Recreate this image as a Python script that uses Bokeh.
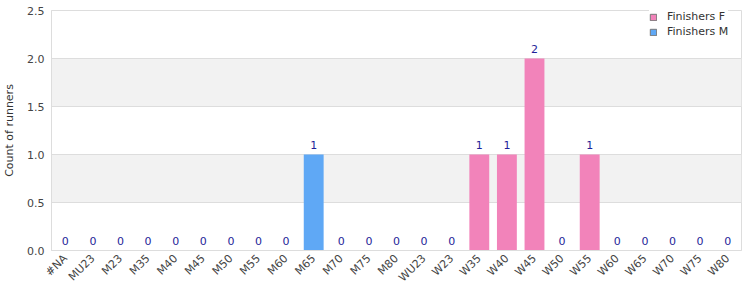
import math
from bokeh.plotting import figure
from bokeh.models import (ColumnDataSource, FactorRange, Range1d, Legend, LegendItem,
                          CustomJSTickFormatter)
from bokeh.core.properties import value
from bokeh.embed import file_html
from bokeh.resources import INLINE

categories = ["#NA", "MU23", "M23", "M35", "M40", "M45", "M50", "M55", "M60", "M65",
              "M70", "M75", "M80", "WU23", "W23", "W35", "W40", "W45", "W50", "W55",
              "W60", "W65", "W70", "W75", "W80"]
finishers_f = [0, 0, 0, 0, 0, 0, 0, 0, 0, 0, 0, 0, 0, 0, 0, 1, 1, 2, 0, 1, 0, 0, 0, 0, 0]
finishers_m = [0, 0, 0, 0, 0, 0, 0, 0, 0, 1, 0, 0, 0, 0, 0, 0, 0, 0, 0, 0, 0, 0, 0, 0, 0]
series_names = ["Finishers F", "Finishers M"]
series_colors = ["#F283BA", "#5FA8F5"]
y_ticks = [0.0, 0.5, 1.0, 1.5, 2.0, 2.5]

totals = [f + m for f, m in zip(finishers_f, finishers_m)]
src = ColumnDataSource(dict(cat=categories, f=finishers_f, m=finishers_m,
                            total=totals, lab=[str(t) for t in totals]))

p = figure(width=750, height=300, x_range=FactorRange(*categories),
           y_range=Range1d(0, 2.5), output_backend="svg", toolbar_location=None,
           min_border_left=51, min_border_right=9, min_border_top=10, min_border_bottom=50)
p.x_range.range_padding = 0
p.x_range.factor_padding = 0

p.background_fill_color = "white"
p.border_fill_color = "white"
p.outline_line_color = "#dddddd"

p.xgrid.grid_line_color = None
p.ygrid.grid_line_color = "#dddddd"
p.ygrid.band_fill_color = "#f2f2f2"
p.ygrid.band_fill_alpha = 1.0

rs = p.vbar_stack(["f", "m"], x="cat", width=0.72, source=src,
                  color=series_colors, line_color=None)

# legend-only renderers (swatches with grey outline); their data draws nothing
dummy = ColumnDataSource(dict(cat=[categories[0]], bottom=[float("nan")], top=[float("nan")]))
leg_rs = [p.vbar(x="cat", bottom="bottom", top="top", width=0.72, source=dummy,
                 fill_color=c, line_color="#777777") for c in series_colors]

p.text(x="cat", y="total", text="lab", source=src, text_align="center",
       text_baseline="bottom", y_offset=-6, text_color="#1f1f99",
       text_font=value("DejaVu Sans"), text_font_size="11px")

legend = Legend(items=[LegendItem(label=n, renderers=[r]) for n, r in zip(series_names, leg_rs)],
                location=(598, 212), background_fill_color="white",
                background_fill_alpha=1, border_line_color=None,
                label_text_font="DejaVu Sans", label_text_font_size="11px",
                label_text_color="#333333", glyph_width=8, glyph_height=8,
                label_height=12, spacing=2, padding=4, margin=0,
                label_standoff=10)
p.add_layout(legend, "center")

p.yaxis.ticker = y_ticks
p.yaxis.formatter = CustomJSTickFormatter(code="return tick.toFixed(1);")

for ax in (p.xaxis[0], p.yaxis[0]):
    ax.axis_line_color = "#dddddd"
    ax.major_tick_line_color = None
    ax.minor_tick_line_color = None
    ax.major_tick_out = 0
    ax.minor_tick_out = 0
    ax.major_label_text_font = "DejaVu Sans"
    ax.major_label_text_font_size = "11px"
    ax.major_label_text_color = "#444444"

p.yaxis.major_label_standoff = 7
p.xaxis.major_label_standoff = 6
p.xaxis.major_label_orientation = math.pi / 4
p.yaxis.axis_label = "Count of runners"
p.yaxis.axis_label_text_font = "DejaVu Sans"
p.yaxis.axis_label_text_font_size = "11px"
p.yaxis.axis_label_text_font_style = "normal"
p.yaxis.axis_label_text_color = "#333333"
p.yaxis.axis_label_standoff = 8

open("out.html", "w").write(file_html(p, INLINE))
